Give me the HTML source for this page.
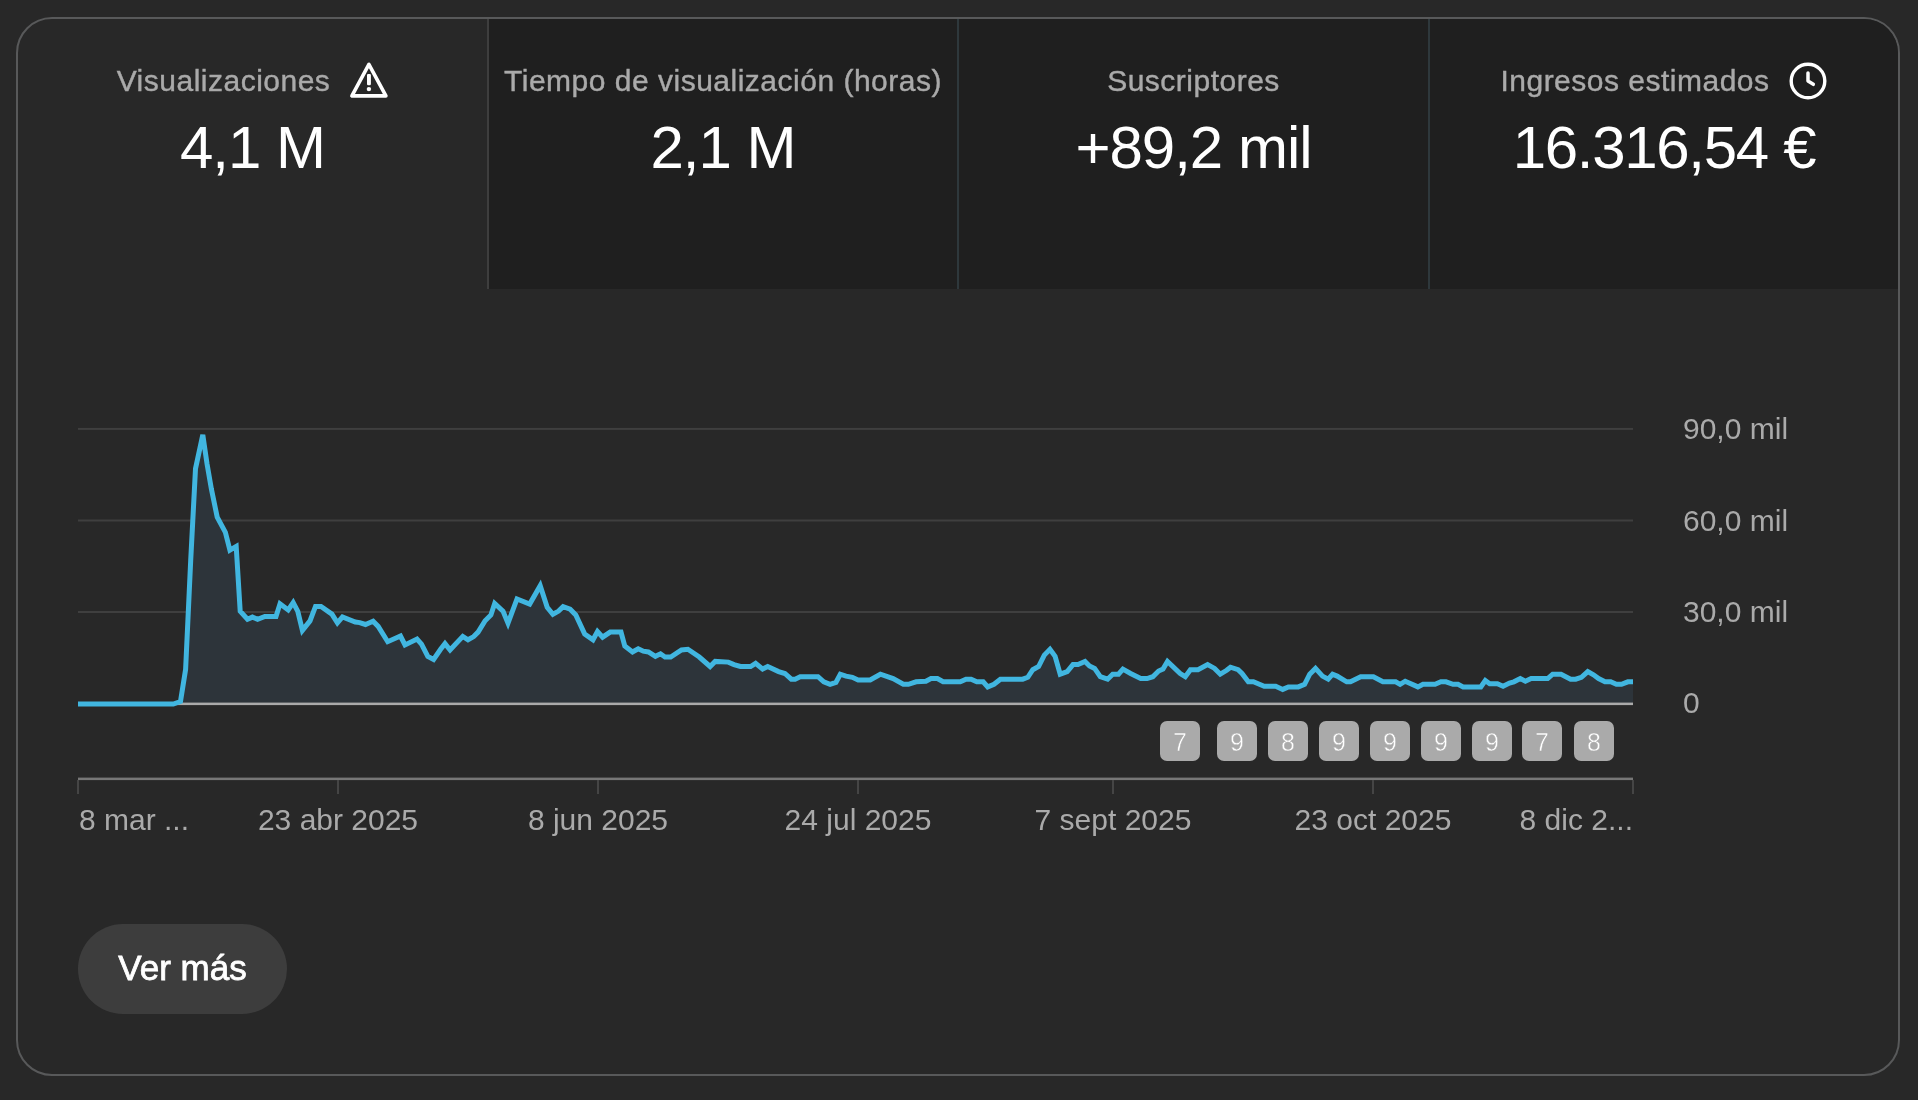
<!DOCTYPE html>
<html><head><meta charset="utf-8">
<style>
html,body{margin:0;padding:0;}
.lbl,.val,.ylbl,.xlbl,.badge,.btn{will-change:transform;}
body{width:1918px;height:1100px;background:#282828;position:relative;overflow:hidden;font-family:"Liberation Sans",sans-serif;}
.abs{position:absolute;}
.card{position:absolute;left:16px;top:17px;width:1880px;height:1055px;border:2px solid #58595a;border-radius:36px;overflow:hidden;background:#282828;}
.tabs{position:absolute;left:0;top:0;height:270px;width:1880px;}
.tab{position:absolute;top:0;height:270px;}
.dark{background:#1f1f1f;}
.div1{position:absolute;top:0;height:270px;width:2px;background:#3e3e3e;}
.div2{position:absolute;top:0;height:270px;width:2px;background:#2e383c;}
.lbl{position:absolute;left:0;width:100%;text-align:center;color:#aaaaaa;font-size:30px;line-height:36px;top:44px;white-space:nowrap;letter-spacing:0.5px;-webkit-text-stroke:0.4px #aaaaaa;}
.val{position:absolute;left:0;width:100%;text-align:center;color:#ffffff;font-size:60px;line-height:70px;top:93.5px;white-space:nowrap;letter-spacing:-1px;}
.ylbl{position:absolute;left:1683px;color:#aaaaaa;font-size:30px;line-height:36px;white-space:nowrap;}
.xlbl{position:absolute;top:802px;color:#aaaaaa;font-size:30px;line-height:36px;white-space:nowrap;text-align:center;width:300px;}
.badge{position:absolute;top:721px;width:40px;height:40px;border-radius:7px;background:#aaaaaa;color:#fff;font-size:25px;line-height:43px;text-align:center;-webkit-text-stroke:0.5px #aaaaaa;}
.btn{position:absolute;left:78px;top:924px;width:209px;height:90px;border-radius:45px;background:#3d3d3d;color:#fff;font-size:35px;line-height:88px;text-align:center;letter-spacing:0px;-webkit-text-stroke:0.8px #fff;}
</style></head><body>
<div class="card">
  <div class="tabs">
    <div class="tab" style="left:0;width:469px;">
      <div class="lbl">Visualizaciones<span style="display:inline-block;width:58px;"></span></div>
      <div class="val">4,1 M</div>
    </div>
    <div class="div1" style="left:469px;"></div>
    <div class="tab dark" style="left:471px;width:1409px;"></div>
    <div class="tab" style="left:471px;width:468px;">
      <div class="lbl">Tiempo de visualización (horas)</div>
      <div class="val">2,1 M</div>
    </div>
    <div class="div2" style="left:939px;"></div>
    <div class="tab" style="left:941px;width:469px;">
      <div class="lbl">Suscriptores</div>
      <div class="val">+89,2 mil</div>
    </div>
    <div class="div2" style="left:1410px;"></div>
    <div class="tab" style="left:1412px;width:468px;">
      <div class="lbl">Ingresos estimados<span style="display:inline-block;width:58px;"></span></div>
      <div class="val" style="letter-spacing:-1.3px;">16.316,54 €</div>
    </div>
  </div>
</div>
<svg class="abs" style="left:0;top:0" width="1918" height="1100" viewBox="0 0 1918 1100">
  <!-- warning icon -->
  <g fill="none" stroke="#fff" stroke-width="4" stroke-linejoin="round" stroke-linecap="round">
    <path d="M368.9,64.4 L351.9,95.9 L385.9,95.9 Z" stroke-width="3.6"/>
    <circle cx="1808" cy="81" r="16.8" stroke-width="3.4"/>
    <path d="M1808,72.9 L1808,81 L1813.3,84.3" stroke-width="3.5"/>
  </g>
  <rect x="367" y="73.9" width="3.9" height="11.3" rx="1.2" fill="#fff"/>
  <circle cx="368.9" cy="89.1" r="2.2" fill="#fff"/>
  <!-- grid -->
  <g fill="#3f3f3f">
    <rect x="78" y="427.9" width="1555" height="2"/>
    <rect x="78" y="519.5" width="1555" height="2"/>
    <rect x="78" y="611" width="1555" height="2"/>
  </g>
  <path transform="translate(0,0.4)" d="M78.0,703.6 L173.3,703.6 L180.5,701.1 L185.6,669.1 L190.7,560.0 L195.5,468.3 L202.8,434.5 L207.0,463.3 L211.4,488.7 L217.2,516.7 L225.4,532.0 L229.9,549.8 L236.2,546.0 L240.2,610.9 L247.5,618.9 L252.5,616.7 L257.6,618.9 L264.9,616.0 L276.0,616.0 L280.0,603.4 L288.2,609.6 L293.2,602.3 L297.8,611.0 L302.4,630.0 L310.0,620.5 L315.5,606.0 L321.0,606.0 L331.9,613.7 L337.4,622.5 L342.5,616.5 L355.3,621.6 L359.7,622.2 L365.5,624.1 L373.1,620.9 L378.2,626.0 L387.7,641.3 L400.5,635.6 L405.0,644.5 L417.0,638.7 L421.5,643.8 L427.8,656.0 L433.6,659.1 L440.6,648.9 L445.0,643.2 L450.1,649.6 L462.8,636.0 L468.0,639.4 L473.7,636.2 L478.1,631.7 L485.1,620.3 L490.9,614.6 L494.7,603.1 L503.0,610.7 L508.0,622.8 L517.0,598.6 L529.7,603.7 L540.2,585.3 L547.2,606.9 L552.9,613.9 L558.6,610.7 L563.1,606.3 L570.1,608.8 L575.8,614.6 L584.7,633.7 L593.0,639.4 L597.5,631.1 L602.6,636.8 L610.2,631.7 L621.0,631.7 L624.8,645.7 L632.5,651.5 L638.2,648.3 L643.3,650.8 L648.4,651.5 L655.4,655.9 L660.5,653.4 L665.0,656.6 L670.7,656.6 L681.5,649.6 L687.9,648.9 L699.3,656.6 L710.1,666.1 L715.2,661.0 L728.3,661.7 L734.0,664.2 L740.4,666.1 L750.6,666.1 L755.6,662.9 L762.6,668.7 L767.7,666.1 L778.6,671.2 L784.9,673.1 L791.3,678.8 L795.1,678.8 L800.2,676.3 L818.0,676.3 L823.8,681.4 L830.1,684.0 L835.9,682.0 L840.3,673.8 L846.0,675.7 L852.4,676.9 L858.1,679.5 L870.2,679.5 L880.4,673.8 L893.1,678.2 L903.3,683.9 L908.4,683.9 L916.1,681.4 L925.9,680.8 L931.0,678.2 L937.4,678.2 L943.1,681.4 L960.3,681.4 L966.0,678.8 L971.1,678.8 L976.8,681.4 L983.2,681.4 L987.7,686.5 L994.0,683.9 L1000.4,678.8 L1022.7,678.8 L1027.8,676.9 L1032.8,669.3 L1038.6,666.1 L1044.3,654.7 L1050.0,648.9 L1055.1,655.9 L1060.2,673.8 L1067.2,671.2 L1073.0,664.2 L1078.0,664.2 L1085.0,661.0 L1089.5,665.5 L1094.6,668.0 L1100.3,676.3 L1107.6,678.8 L1112.7,673.8 L1118.5,673.8 L1122.9,668.7 L1130.6,673.1 L1140.7,678.2 L1147.1,678.2 L1152.8,676.3 L1158.6,670.6 L1163.0,668.7 L1167.5,661.0 L1180.2,673.1 L1185.3,676.3 L1190.4,669.3 L1198.0,669.3 L1207.6,664.2 L1214.6,668.0 L1220.3,673.8 L1226.7,669.9 L1230.5,666.8 L1238.1,669.3 L1242.0,673.1 L1248.3,681.4 L1253.4,681.4 L1264.2,685.8 L1275.7,685.8 L1282.7,689.0 L1288.4,686.5 L1298.3,686.5 L1304.6,683.9 L1309.7,673.8 L1315.5,668.0 L1322.5,675.7 L1328.2,678.8 L1332.6,673.8 L1337.1,675.7 L1346.7,681.4 L1350.5,681.4 L1360.7,676.3 L1373.4,676.3 L1382.9,681.4 L1395.7,681.4 L1400.1,683.9 L1405.2,680.8 L1417.9,686.5 L1423.0,683.9 L1435.1,683.9 L1440.9,681.4 L1446.0,681.4 L1453.0,683.9 L1458.0,683.9 L1463.1,686.5 L1480.8,686.5 L1485.3,680.1 L1489.7,683.3 L1497.4,683.3 L1503.1,685.8 L1509.5,682.7 L1513.9,681.4 L1520.3,678.2 L1525.4,680.8 L1531.1,678.2 L1547.7,678.2 L1552.7,673.8 L1561.0,673.8 L1570.6,678.8 L1575.7,678.8 L1581.4,676.9 L1587.8,671.2 L1593.5,674.4 L1598.6,678.2 L1605.0,681.4 L1610.7,681.4 L1616.4,683.9 L1621.5,683.9 L1627.9,681.4 L1633.0,681.4 L1633,703.6 L78,703.6 Z" fill="#2d343a"/>
  <rect x="78" y="702.6" width="1555" height="2.5" fill="#aaaaaa"/>
  <path transform="translate(0,0.4)" d="M78.0,703.6 L173.3,703.6 L180.5,701.1 L185.6,669.1 L190.7,560.0 L195.5,468.3 L202.8,434.5 L207.0,463.3 L211.4,488.7 L217.2,516.7 L225.4,532.0 L229.9,549.8 L236.2,546.0 L240.2,610.9 L247.5,618.9 L252.5,616.7 L257.6,618.9 L264.9,616.0 L276.0,616.0 L280.0,603.4 L288.2,609.6 L293.2,602.3 L297.8,611.0 L302.4,630.0 L310.0,620.5 L315.5,606.0 L321.0,606.0 L331.9,613.7 L337.4,622.5 L342.5,616.5 L355.3,621.6 L359.7,622.2 L365.5,624.1 L373.1,620.9 L378.2,626.0 L387.7,641.3 L400.5,635.6 L405.0,644.5 L417.0,638.7 L421.5,643.8 L427.8,656.0 L433.6,659.1 L440.6,648.9 L445.0,643.2 L450.1,649.6 L462.8,636.0 L468.0,639.4 L473.7,636.2 L478.1,631.7 L485.1,620.3 L490.9,614.6 L494.7,603.1 L503.0,610.7 L508.0,622.8 L517.0,598.6 L529.7,603.7 L540.2,585.3 L547.2,606.9 L552.9,613.9 L558.6,610.7 L563.1,606.3 L570.1,608.8 L575.8,614.6 L584.7,633.7 L593.0,639.4 L597.5,631.1 L602.6,636.8 L610.2,631.7 L621.0,631.7 L624.8,645.7 L632.5,651.5 L638.2,648.3 L643.3,650.8 L648.4,651.5 L655.4,655.9 L660.5,653.4 L665.0,656.6 L670.7,656.6 L681.5,649.6 L687.9,648.9 L699.3,656.6 L710.1,666.1 L715.2,661.0 L728.3,661.7 L734.0,664.2 L740.4,666.1 L750.6,666.1 L755.6,662.9 L762.6,668.7 L767.7,666.1 L778.6,671.2 L784.9,673.1 L791.3,678.8 L795.1,678.8 L800.2,676.3 L818.0,676.3 L823.8,681.4 L830.1,684.0 L835.9,682.0 L840.3,673.8 L846.0,675.7 L852.4,676.9 L858.1,679.5 L870.2,679.5 L880.4,673.8 L893.1,678.2 L903.3,683.9 L908.4,683.9 L916.1,681.4 L925.9,680.8 L931.0,678.2 L937.4,678.2 L943.1,681.4 L960.3,681.4 L966.0,678.8 L971.1,678.8 L976.8,681.4 L983.2,681.4 L987.7,686.5 L994.0,683.9 L1000.4,678.8 L1022.7,678.8 L1027.8,676.9 L1032.8,669.3 L1038.6,666.1 L1044.3,654.7 L1050.0,648.9 L1055.1,655.9 L1060.2,673.8 L1067.2,671.2 L1073.0,664.2 L1078.0,664.2 L1085.0,661.0 L1089.5,665.5 L1094.6,668.0 L1100.3,676.3 L1107.6,678.8 L1112.7,673.8 L1118.5,673.8 L1122.9,668.7 L1130.6,673.1 L1140.7,678.2 L1147.1,678.2 L1152.8,676.3 L1158.6,670.6 L1163.0,668.7 L1167.5,661.0 L1180.2,673.1 L1185.3,676.3 L1190.4,669.3 L1198.0,669.3 L1207.6,664.2 L1214.6,668.0 L1220.3,673.8 L1226.7,669.9 L1230.5,666.8 L1238.1,669.3 L1242.0,673.1 L1248.3,681.4 L1253.4,681.4 L1264.2,685.8 L1275.7,685.8 L1282.7,689.0 L1288.4,686.5 L1298.3,686.5 L1304.6,683.9 L1309.7,673.8 L1315.5,668.0 L1322.5,675.7 L1328.2,678.8 L1332.6,673.8 L1337.1,675.7 L1346.7,681.4 L1350.5,681.4 L1360.7,676.3 L1373.4,676.3 L1382.9,681.4 L1395.7,681.4 L1400.1,683.9 L1405.2,680.8 L1417.9,686.5 L1423.0,683.9 L1435.1,683.9 L1440.9,681.4 L1446.0,681.4 L1453.0,683.9 L1458.0,683.9 L1463.1,686.5 L1480.8,686.5 L1485.3,680.1 L1489.7,683.3 L1497.4,683.3 L1503.1,685.8 L1509.5,682.7 L1513.9,681.4 L1520.3,678.2 L1525.4,680.8 L1531.1,678.2 L1547.7,678.2 L1552.7,673.8 L1561.0,673.8 L1570.6,678.8 L1575.7,678.8 L1581.4,676.9 L1587.8,671.2 L1593.5,674.4 L1598.6,678.2 L1605.0,681.4 L1610.7,681.4 L1616.4,683.9 L1621.5,683.9 L1627.9,681.4 L1633.0,681.4" fill="none" stroke="#41b6e0" stroke-width="5" stroke-linejoin="miter" stroke-miterlimit="3"/>
  <!-- x axis -->
  <rect x="78" y="777.6" width="1555" height="2.5" fill="#777777"/>
  <g fill="#454545">
    <rect x="77" y="780" width="2" height="14"/>
    <rect x="337" y="780" width="2" height="14"/>
    <rect x="597" y="780" width="2" height="14"/>
    <rect x="857" y="780" width="2" height="14"/>
    <rect x="1112" y="780" width="2" height="14"/>
    <rect x="1372" y="780" width="2" height="14"/>
    <rect x="1632" y="780" width="2" height="14"/>
  </g>
</svg>
<div class="ylbl" style="top:411px;">90,0 mil</div>
<div class="ylbl" style="top:503px;">60,0 mil</div>
<div class="ylbl" style="top:594px;">30,0 mil</div>
<div class="ylbl" style="top:685px;">0</div>
<div class="xlbl" style="left:79px;text-align:left;">8 mar ...</div>
<div class="xlbl" style="left:188px;">23 abr 2025</div>
<div class="xlbl" style="left:448px;">8 jun 2025</div>
<div class="xlbl" style="left:708px;">24 jul 2025</div>
<div class="xlbl" style="left:963px;">7 sept 2025</div>
<div class="xlbl" style="left:1223px;">23 oct 2025</div>
<div class="xlbl" style="left:1333px;text-align:right;">8 dic 2...</div>
<div class="badge" style="left:1160px;">7</div>
<div class="badge" style="left:1217px;">9</div>
<div class="badge" style="left:1268px;">8</div>
<div class="badge" style="left:1319px;">9</div>
<div class="badge" style="left:1370px;">9</div>
<div class="badge" style="left:1421px;">9</div>
<div class="badge" style="left:1472px;">9</div>
<div class="badge" style="left:1522px;">7</div>
<div class="badge" style="left:1574px;">8</div>
<div class="btn">Ver más</div>
</body></html>
